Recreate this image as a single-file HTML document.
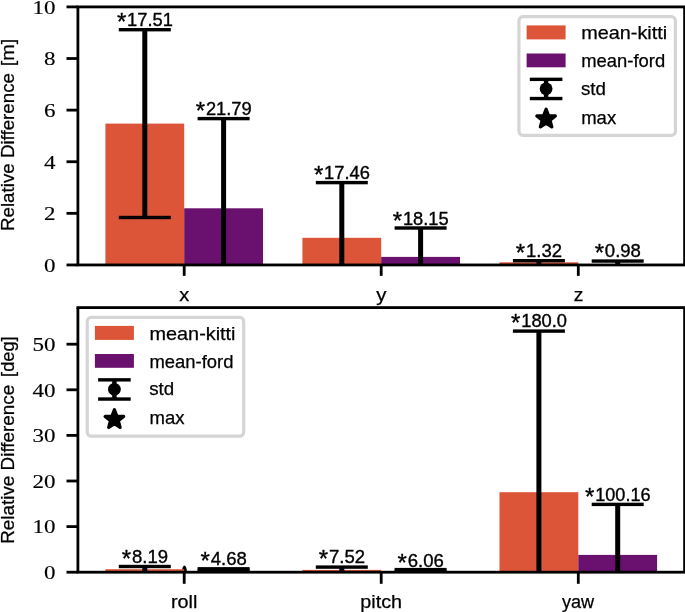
<!DOCTYPE html>
<html><head><meta charset="utf-8"><title>chart</title>
<style>
html,body{margin:0;padding:0;background:#fff;}
body{width:685px;height:612px;overflow:hidden;font-family:"Liberation Sans",sans-serif;}
svg{display:block;will-change:transform;}
</style></head><body>
<svg width="685" height="612" viewBox="0 0 685 612">
<clipPath id="c1"><rect x="77.9" y="6.9" width="606.7" height="258.05"/></clipPath>
<g clip-path="url(#c1)">
<rect x="105.40" y="123.60" width="78.80" height="141.35" fill="#DD5539"/>
<rect x="184.20" y="208.30" width="78.80" height="56.65" fill="#6A106E"/>
<rect x="302.40" y="237.80" width="78.80" height="27.15" fill="#DD5539"/>
<rect x="381.20" y="256.90" width="78.80" height="8.05" fill="#6A106E"/>
<rect x="499.50" y="262.30" width="78.80" height="2.65" fill="#DD5539"/>
<rect x="578.30" y="264.20" width="78.80" height="0.75" fill="#6A106E"/>
<rect x="142.30" y="29.70" width="5.00" height="187.80" fill="#000"/>
<rect x="118.80" y="28.00" width="52.00" height="3.40" fill="#000"/>
<rect x="118.80" y="215.80" width="52.00" height="3.40" fill="#000"/>
<rect x="221.10" y="118.60" width="5.00" height="223.77" fill="#000"/>
<rect x="197.60" y="116.90" width="52.00" height="3.40" fill="#000"/>
<rect x="197.60" y="340.67" width="52.00" height="3.40" fill="#000"/>
<rect x="339.30" y="182.60" width="5.00" height="159.77" fill="#000"/>
<rect x="315.80" y="180.90" width="52.00" height="3.40" fill="#000"/>
<rect x="315.80" y="340.67" width="52.00" height="3.40" fill="#000"/>
<rect x="418.10" y="228.00" width="5.00" height="114.37" fill="#000"/>
<rect x="394.60" y="226.30" width="52.00" height="3.40" fill="#000"/>
<rect x="394.60" y="340.67" width="52.00" height="3.40" fill="#000"/>
<rect x="536.40" y="260.70" width="5.00" height="30.06" fill="#000"/>
<rect x="512.90" y="259.00" width="52.00" height="3.40" fill="#000"/>
<rect x="512.90" y="289.06" width="52.00" height="3.40" fill="#000"/>
<rect x="615.20" y="261.05" width="5.00" height="29.70" fill="#000"/>
<rect x="591.70" y="259.35" width="52.00" height="3.40" fill="#000"/>
<rect x="591.70" y="289.06" width="52.00" height="3.40" fill="#000"/>
</g>
<text x="121.60" y="29.90" text-anchor="middle" font-size="24.0" font-family="'Liberation Sans', sans-serif" stroke="#000" stroke-width="0.35">*</text>
<text x="127.12" y="25.90" text-anchor="start" font-size="17.7" font-family="'Liberation Sans', sans-serif" textLength="45.8" lengthAdjust="spacingAndGlyphs" stroke="#000" stroke-width="0.35">17.51</text>
<text x="200.40" y="118.80" text-anchor="middle" font-size="24.0" font-family="'Liberation Sans', sans-serif" stroke="#000" stroke-width="0.35">*</text>
<text x="205.93" y="114.80" text-anchor="start" font-size="17.7" font-family="'Liberation Sans', sans-serif" textLength="45.8" lengthAdjust="spacingAndGlyphs" stroke="#000" stroke-width="0.35">21.79</text>
<text x="318.60" y="182.90" text-anchor="middle" font-size="24.0" font-family="'Liberation Sans', sans-serif" stroke="#000" stroke-width="0.35">*</text>
<text x="324.12" y="178.90" text-anchor="start" font-size="17.7" font-family="'Liberation Sans', sans-serif" textLength="45.8" lengthAdjust="spacingAndGlyphs" stroke="#000" stroke-width="0.35">17.46</text>
<text x="397.40" y="228.60" text-anchor="middle" font-size="24.0" font-family="'Liberation Sans', sans-serif" stroke="#000" stroke-width="0.35">*</text>
<text x="402.92" y="224.60" text-anchor="start" font-size="17.7" font-family="'Liberation Sans', sans-serif" textLength="45.8" lengthAdjust="spacingAndGlyphs" stroke="#000" stroke-width="0.35">18.15</text>
<text x="520.52" y="260.90" text-anchor="middle" font-size="24.0" font-family="'Liberation Sans', sans-serif" stroke="#000" stroke-width="0.35">*</text>
<text x="526.05" y="256.90" text-anchor="start" font-size="17.7" font-family="'Liberation Sans', sans-serif" textLength="36.1" lengthAdjust="spacingAndGlyphs" stroke="#000" stroke-width="0.35">1.32</text>
<text x="599.32" y="260.90" text-anchor="middle" font-size="24.0" font-family="'Liberation Sans', sans-serif" stroke="#000" stroke-width="0.35">*</text>
<text x="604.85" y="256.90" text-anchor="start" font-size="17.7" font-family="'Liberation Sans', sans-serif" textLength="36.1" lengthAdjust="spacingAndGlyphs" stroke="#000" stroke-width="0.35">0.98</text>
<rect x="76.50" y="5.50" width="609.50" height="2.80" fill="#000"/>
<rect x="76.50" y="263.55" width="609.50" height="2.80" fill="#000"/>
<rect x="76.50" y="6.90" width="2.80" height="258.05" fill="#000"/>
<rect x="683.20" y="6.90" width="2.80" height="258.05" fill="#000"/>
<rect x="66.50" y="263.55" width="11.40" height="2.80" fill="#000"/>
<text x="55.40" y="271.85" text-anchor="end" font-size="18.8" font-family="'Liberation Serif', serif" textLength="11.5" lengthAdjust="spacingAndGlyphs" stroke="#000" stroke-width="0.15">0</text>
<rect x="66.50" y="211.94" width="11.40" height="2.80" fill="#000"/>
<text x="55.40" y="220.24" text-anchor="end" font-size="18.8" font-family="'Liberation Serif', serif" textLength="11.5" lengthAdjust="spacingAndGlyphs" stroke="#000" stroke-width="0.15">2</text>
<rect x="66.50" y="160.33" width="11.40" height="2.80" fill="#000"/>
<text x="55.40" y="168.63" text-anchor="end" font-size="18.8" font-family="'Liberation Serif', serif" textLength="11.5" lengthAdjust="spacingAndGlyphs" stroke="#000" stroke-width="0.15">4</text>
<rect x="66.50" y="108.72" width="11.40" height="2.80" fill="#000"/>
<text x="55.40" y="117.02" text-anchor="end" font-size="18.8" font-family="'Liberation Serif', serif" textLength="11.5" lengthAdjust="spacingAndGlyphs" stroke="#000" stroke-width="0.15">6</text>
<rect x="66.50" y="57.11" width="11.40" height="2.80" fill="#000"/>
<text x="55.40" y="65.41" text-anchor="end" font-size="18.8" font-family="'Liberation Serif', serif" textLength="11.5" lengthAdjust="spacingAndGlyphs" stroke="#000" stroke-width="0.15">8</text>
<rect x="66.50" y="5.50" width="11.40" height="2.80" fill="#000"/>
<text x="55.40" y="13.80" text-anchor="end" font-size="18.8" font-family="'Liberation Serif', serif" textLength="23.0" lengthAdjust="spacingAndGlyphs" stroke="#000" stroke-width="0.15">10</text>
<rect x="182.80" y="264.95" width="2.80" height="10.90" fill="#000"/>
<text x="184.20" y="301.00" text-anchor="middle" font-size="18.0" font-family="'Liberation Sans', sans-serif" textLength="10.0" lengthAdjust="spacingAndGlyphs" stroke="#000" stroke-width="0.25">x</text>
<rect x="379.80" y="264.95" width="2.80" height="10.90" fill="#000"/>
<text x="381.40" y="301.00" text-anchor="middle" font-size="18.0" font-family="'Liberation Sans', sans-serif" textLength="10.2" lengthAdjust="spacingAndGlyphs" stroke="#000" stroke-width="0.25">y</text>
<rect x="576.90" y="264.95" width="2.80" height="10.90" fill="#000"/>
<text x="578.50" y="301.00" text-anchor="middle" font-size="18.0" font-family="'Liberation Sans', sans-serif" textLength="9.6" lengthAdjust="spacingAndGlyphs" stroke="#000" stroke-width="0.25">z</text>
<g transform="translate(14.0,231.0) rotate(-90)">
<text x="0.00" y="0.00" text-anchor="start" font-size="17.6" font-family="'Liberation Sans', sans-serif" textLength="158.0" lengthAdjust="spacingAndGlyphs" stroke="#000" stroke-width="0.25">Relative Difference</text>
</g>
<g transform="translate(14.0,66.3) rotate(-90)">
<text x="0.00" y="0.00" text-anchor="start" font-size="18.6" font-family="'Liberation Sans', sans-serif" textLength="27.5" lengthAdjust="spacingAndGlyphs" stroke="#000" stroke-width="0.25">[m]</text>
</g>
<rect x="518.95" y="16.60" width="156.45" height="118.8" rx="4" ry="4" fill="#fff" fill-opacity="0.8" stroke="#d5d5d5" stroke-width="3.2"/>
<rect x="526.60" y="25.40" width="39.00" height="14.00" fill="#DD5539"/>
<rect x="526.60" y="53.50" width="39.00" height="13.80" fill="#6A106E"/>
<rect x="529.80" y="77.65" width="32.60" height="3.40" fill="#000"/>
<rect x="529.80" y="96.85" width="32.60" height="3.40" fill="#000"/>
<rect x="543.90" y="79.20" width="4.40" height="19.20" fill="#000"/>
<circle cx="546.10" cy="88.80" r="6.4" fill="#000"/>
<polygon points="546.10,109.30 548.49,115.70 555.33,116.00 549.97,120.26 551.80,126.85 546.10,123.07 540.40,126.85 542.23,120.26 536.87,116.00 543.71,115.70" fill="#000" stroke="#000" stroke-width="3.3" stroke-linejoin="round"/>
<text x="581.20" y="39.20" text-anchor="start" font-size="18.4" font-family="'Liberation Sans', sans-serif" textLength="86.0" lengthAdjust="spacingAndGlyphs" stroke="#000" stroke-width="0.25">mean-kitti</text>
<text x="581.20" y="67.20" text-anchor="start" font-size="18.4" font-family="'Liberation Sans', sans-serif" textLength="84.0" lengthAdjust="spacingAndGlyphs" stroke="#000" stroke-width="0.25">mean-ford</text>
<text x="580.90" y="94.90" text-anchor="start" font-size="18.4" font-family="'Liberation Sans', sans-serif" textLength="25.0" lengthAdjust="spacingAndGlyphs" stroke="#000" stroke-width="0.25">std</text>
<text x="581.20" y="123.60" text-anchor="start" font-size="18.4" font-family="'Liberation Sans', sans-serif" textLength="35.0" lengthAdjust="spacingAndGlyphs" stroke="#000" stroke-width="0.25">max</text>
<clipPath id="c2"><rect x="77.9" y="307.6" width="606.7" height="264.6"/></clipPath>
<g clip-path="url(#c2)">
<ellipse cx="184.4" cy="572" rx="2.5" ry="6.5" fill="#000"/>
<rect x="105.40" y="569.20" width="78.80" height="3.00" fill="#DD5539"/>
<rect x="184.20" y="571.50" width="78.80" height="0.70" fill="#6A106E"/>
<rect x="302.40" y="569.90" width="78.80" height="2.30" fill="#DD5539"/>
<rect x="381.20" y="571.50" width="78.80" height="0.70" fill="#6A106E"/>
<rect x="499.50" y="492.20" width="78.80" height="80.00" fill="#DD5539"/>
<rect x="578.30" y="554.90" width="78.80" height="17.30" fill="#6A106E"/>
<rect x="142.30" y="566.50" width="5.00" height="19.38" fill="#000"/>
<rect x="118.80" y="564.80" width="52.00" height="3.40" fill="#000"/>
<rect x="118.80" y="584.18" width="52.00" height="3.40" fill="#000"/>
<rect x="221.10" y="568.80" width="5.00" height="17.08" fill="#000"/>
<rect x="197.60" y="567.10" width="52.00" height="3.40" fill="#000"/>
<rect x="197.60" y="584.18" width="52.00" height="3.40" fill="#000"/>
<rect x="339.30" y="567.10" width="5.00" height="18.78" fill="#000"/>
<rect x="315.80" y="565.40" width="52.00" height="3.40" fill="#000"/>
<rect x="315.80" y="584.18" width="52.00" height="3.40" fill="#000"/>
<rect x="418.10" y="569.60" width="5.00" height="16.28" fill="#000"/>
<rect x="394.60" y="567.90" width="52.00" height="3.40" fill="#000"/>
<rect x="394.60" y="584.18" width="52.00" height="3.40" fill="#000"/>
<rect x="536.40" y="331.10" width="5.00" height="254.78" fill="#000"/>
<rect x="512.90" y="329.40" width="52.00" height="3.40" fill="#000"/>
<rect x="512.90" y="584.18" width="52.00" height="3.40" fill="#000"/>
<rect x="615.20" y="504.40" width="5.00" height="81.48" fill="#000"/>
<rect x="591.70" y="502.70" width="52.00" height="3.40" fill="#000"/>
<rect x="591.70" y="584.18" width="52.00" height="3.40" fill="#000"/>
<rect x="197.60" y="568.8" width="52.0" height="3" fill="#000"/>
<rect x="394.60" y="569.6" width="52.0" height="3" fill="#000"/>
</g>
<text x="126.42" y="566.50" text-anchor="middle" font-size="24.0" font-family="'Liberation Sans', sans-serif" stroke="#000" stroke-width="0.35">*</text>
<text x="131.95" y="562.50" text-anchor="start" font-size="17.7" font-family="'Liberation Sans', sans-serif" textLength="36.1" lengthAdjust="spacingAndGlyphs" stroke="#000" stroke-width="0.35">8.19</text>
<text x="205.22" y="569.00" text-anchor="middle" font-size="24.0" font-family="'Liberation Sans', sans-serif" stroke="#000" stroke-width="0.35">*</text>
<text x="210.75" y="565.00" text-anchor="start" font-size="17.7" font-family="'Liberation Sans', sans-serif" textLength="36.1" lengthAdjust="spacingAndGlyphs" stroke="#000" stroke-width="0.35">4.68</text>
<text x="323.43" y="567.10" text-anchor="middle" font-size="24.0" font-family="'Liberation Sans', sans-serif" stroke="#000" stroke-width="0.35">*</text>
<text x="328.95" y="563.10" text-anchor="start" font-size="17.7" font-family="'Liberation Sans', sans-serif" textLength="36.1" lengthAdjust="spacingAndGlyphs" stroke="#000" stroke-width="0.35">7.52</text>
<text x="402.22" y="571.40" text-anchor="middle" font-size="24.0" font-family="'Liberation Sans', sans-serif" stroke="#000" stroke-width="0.35">*</text>
<text x="407.75" y="567.40" text-anchor="start" font-size="17.7" font-family="'Liberation Sans', sans-serif" textLength="36.1" lengthAdjust="spacingAndGlyphs" stroke="#000" stroke-width="0.35">6.06</text>
<text x="515.70" y="331.10" text-anchor="middle" font-size="24.0" font-family="'Liberation Sans', sans-serif" stroke="#000" stroke-width="0.35">*</text>
<text x="521.22" y="327.10" text-anchor="start" font-size="17.7" font-family="'Liberation Sans', sans-serif" textLength="45.8" lengthAdjust="spacingAndGlyphs" stroke="#000" stroke-width="0.35">180.0</text>
<text x="589.67" y="504.60" text-anchor="middle" font-size="24.0" font-family="'Liberation Sans', sans-serif" stroke="#000" stroke-width="0.35">*</text>
<text x="595.20" y="500.60" text-anchor="start" font-size="17.7" font-family="'Liberation Sans', sans-serif" textLength="55.4" lengthAdjust="spacingAndGlyphs" stroke="#000" stroke-width="0.35">100.16</text>
<rect x="76.50" y="306.20" width="609.50" height="2.80" fill="#000"/>
<rect x="76.50" y="570.80" width="609.50" height="2.80" fill="#000"/>
<rect x="76.50" y="307.60" width="2.80" height="264.60" fill="#000"/>
<rect x="683.20" y="307.60" width="2.80" height="264.60" fill="#000"/>
<rect x="66.50" y="570.80" width="11.40" height="2.80" fill="#000"/>
<text x="55.40" y="579.00" text-anchor="end" font-size="18.8" font-family="'Liberation Serif', serif" textLength="11.5" lengthAdjust="spacingAndGlyphs" stroke="#000" stroke-width="0.15">0</text>
<rect x="66.50" y="525.20" width="11.40" height="2.80" fill="#000"/>
<text x="55.40" y="533.40" text-anchor="end" font-size="18.8" font-family="'Liberation Serif', serif" textLength="23.0" lengthAdjust="spacingAndGlyphs" stroke="#000" stroke-width="0.15">10</text>
<rect x="66.50" y="479.60" width="11.40" height="2.80" fill="#000"/>
<text x="55.40" y="487.80" text-anchor="end" font-size="18.8" font-family="'Liberation Serif', serif" textLength="23.0" lengthAdjust="spacingAndGlyphs" stroke="#000" stroke-width="0.15">20</text>
<rect x="66.50" y="434.00" width="11.40" height="2.80" fill="#000"/>
<text x="55.40" y="442.20" text-anchor="end" font-size="18.8" font-family="'Liberation Serif', serif" textLength="23.0" lengthAdjust="spacingAndGlyphs" stroke="#000" stroke-width="0.15">30</text>
<rect x="66.50" y="388.40" width="11.40" height="2.80" fill="#000"/>
<text x="55.40" y="396.60" text-anchor="end" font-size="18.8" font-family="'Liberation Serif', serif" textLength="23.0" lengthAdjust="spacingAndGlyphs" stroke="#000" stroke-width="0.15">40</text>
<rect x="66.50" y="342.80" width="11.40" height="2.80" fill="#000"/>
<text x="55.40" y="351.00" text-anchor="end" font-size="18.8" font-family="'Liberation Serif', serif" textLength="23.0" lengthAdjust="spacingAndGlyphs" stroke="#000" stroke-width="0.15">50</text>
<rect x="182.80" y="572.20" width="2.80" height="11.60" fill="#000"/>
<text x="184.20" y="607.90" text-anchor="middle" font-size="18.0" font-family="'Liberation Sans', sans-serif" textLength="26.4" lengthAdjust="spacingAndGlyphs" stroke="#000" stroke-width="0.25">roll</text>
<rect x="379.80" y="572.20" width="2.80" height="11.60" fill="#000"/>
<text x="381.20" y="607.90" text-anchor="middle" font-size="18.0" font-family="'Liberation Sans', sans-serif" textLength="41.8" lengthAdjust="spacingAndGlyphs" stroke="#000" stroke-width="0.25">pitch</text>
<rect x="576.90" y="572.20" width="2.80" height="11.60" fill="#000"/>
<text x="578.10" y="607.90" text-anchor="middle" font-size="18.0" font-family="'Liberation Sans', sans-serif" textLength="32.2" lengthAdjust="spacingAndGlyphs" stroke="#000" stroke-width="0.25">yaw</text>
<g transform="translate(14.0,543.8) rotate(-90)">
<text x="0.00" y="0.00" text-anchor="start" font-size="17.6" font-family="'Liberation Sans', sans-serif" textLength="159.0" lengthAdjust="spacingAndGlyphs" stroke="#000" stroke-width="0.25">Relative Difference</text>
</g>
<g transform="translate(14.0,376.9) rotate(-90)">
<text x="0.00" y="0.00" text-anchor="start" font-size="18.6" font-family="'Liberation Sans', sans-serif" textLength="40.6" lengthAdjust="spacingAndGlyphs" stroke="#000" stroke-width="0.25">[deg]</text>
</g>
<rect x="87.25" y="317.40" width="156.45" height="118.8" rx="4" ry="4" fill="#fff" fill-opacity="0.8" stroke="#d5d5d5" stroke-width="3.2"/>
<rect x="94.90" y="325.90" width="39.00" height="14.00" fill="#DD5539"/>
<rect x="94.90" y="354.00" width="39.00" height="13.80" fill="#6A106E"/>
<rect x="98.10" y="378.15" width="32.60" height="3.40" fill="#000"/>
<rect x="98.10" y="397.35" width="32.60" height="3.40" fill="#000"/>
<rect x="112.20" y="379.70" width="4.40" height="19.20" fill="#000"/>
<circle cx="114.40" cy="389.30" r="6.4" fill="#000"/>
<polygon points="114.40,409.80 116.79,416.20 123.63,416.50 118.27,420.76 120.10,427.35 114.40,423.57 108.70,427.35 110.53,420.76 105.17,416.50 112.01,416.20" fill="#000" stroke="#000" stroke-width="3.3" stroke-linejoin="round"/>
<text x="149.50" y="339.70" text-anchor="start" font-size="18.4" font-family="'Liberation Sans', sans-serif" textLength="86.0" lengthAdjust="spacingAndGlyphs" stroke="#000" stroke-width="0.25">mean-kitti</text>
<text x="149.50" y="367.70" text-anchor="start" font-size="18.4" font-family="'Liberation Sans', sans-serif" textLength="84.0" lengthAdjust="spacingAndGlyphs" stroke="#000" stroke-width="0.25">mean-ford</text>
<text x="149.20" y="395.40" text-anchor="start" font-size="18.4" font-family="'Liberation Sans', sans-serif" textLength="25.0" lengthAdjust="spacingAndGlyphs" stroke="#000" stroke-width="0.25">std</text>
<text x="149.50" y="424.10" text-anchor="start" font-size="18.4" font-family="'Liberation Sans', sans-serif" textLength="35.0" lengthAdjust="spacingAndGlyphs" stroke="#000" stroke-width="0.25">max</text>
</svg>
</body></html>
